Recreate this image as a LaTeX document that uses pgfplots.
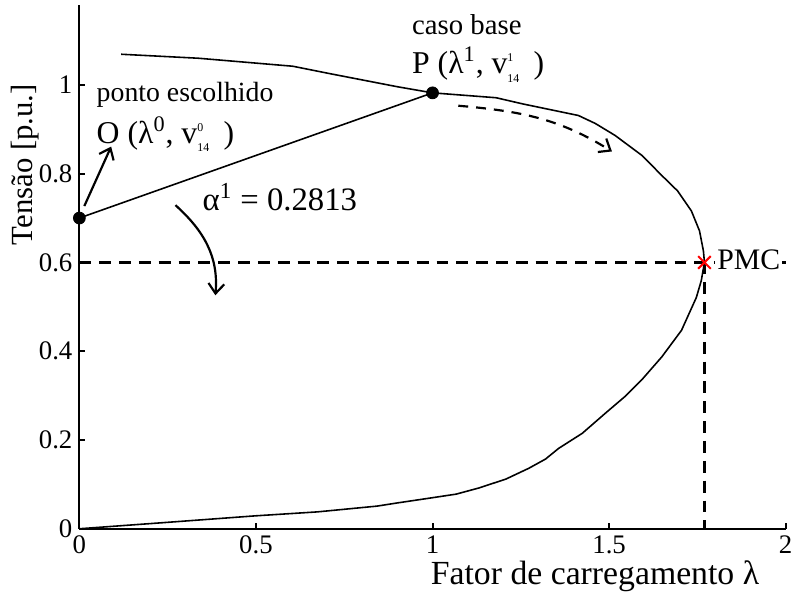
\documentclass[border=0pt]{standalone}
\usepackage{fontspec}
\setmainfont{Liberation Serif}
\usepackage{pgfplots}
\pgfplotsset{compat=1.18}
\usetikzlibrary{arrows.meta}

\newcommand{\sub}[2]{$^{\mbox{\fontsize{6}{6}\selectfont #1}}_{\mbox{\fontsize{6}{6}\selectfont #2}}$}

\begin{document}
\begin{tikzpicture}
\begin{axis}[
  scale only axis,
  width=356pt, height=264pt,
  xmin=0, xmax=2, ymin=0, ymax=1.18,
  axis lines*=left,
  axis line style={line width=1pt},
  xtick={0,0.5,1,1.5,2},
  ytick={0,0.2,0.4,0.6,0.8,1},
  tick align=inside,
  major tick length=3pt,
  tick style={line width=1pt, black},
  /pgf/number format/assume math mode=true,
  tick label style={font=\fontsize{13.5}{15}\selectfont},
  xlabel={Fator de carregamento λ},
  ylabel={Tensão [p.u.]},
  xlabel style={font=\fontsize{17}{19}\selectfont, at={(axis description cs:0.73,-0.09)}, anchor=center},
  ylabel style={font=\fontsize{15.5}{18}\selectfont, at={(axis description cs:-0.077,0.695)}, anchor=center},
  clip=false,
]
% curva PV
\addplot[black, line width=0.8pt] coordinates {
  (0.118,1.069) (0.337,1.060) (0.604,1.042) (0.711,1.025) (0.899,0.996)
  (1.0,0.982) (1.180,0.971) (1.256,0.957) (1.413,0.931) (1.461,0.913)
  (1.517,0.886) (1.593,0.841) (1.649,0.796) (1.694,0.761) (1.733,0.716)
  (1.756,0.671) (1.767,0.626) (1.770,0.600) (1.761,0.559) (1.747,0.521)
  (1.722,0.477) (1.705,0.447) (1.649,0.387) (1.593,0.336) (1.545,0.298)
  (1.489,0.260) (1.424,0.215) (1.357,0.181) (1.320,0.157) (1.272,0.136)
  (1.208,0.112) (1.132,0.092) (1.067,0.078) (0.992,0.069) (0.899,0.058)
  (0.843,0.051) (0.674,0.038) (0.497,0.029) (0.225,0.013) (0,0)
};
% reta O-P
\addplot[black, line width=0.8pt] coordinates {(0,0.70) (1,0.982)};
% linhas tracejadas
\addplot[black, line width=1.2pt, dash pattern=on 6pt off 4pt] coordinates {(0,0.6) (2.015,0.6)};
\addplot[black, line width=1.2pt, dash pattern=on 6pt off 4pt] coordinates {(1.77,0.6) (1.77,0)};
% pontos
\addplot[only marks, mark=*, mark size=3pt, black] coordinates {(0,0.70) (1,0.982)};
\node[anchor=base west, fill=white, inner sep=1pt, font=\fontsize{15}{17}\selectfont] at (axis cs:1.80,0.584) {PMC};
\addplot[only marks, mark=x, mark size=4.5pt, red, line width=1pt] coordinates {(1.77,0.6)};

% textos
\node[anchor=base west, inner sep=0pt, font=\fontsize{14}{16}\selectfont] at (axis cs:0.048,0.962) {ponto escolhido};
\node[anchor=base west, inner sep=0pt, font=\fontsize{16}{18}\selectfont] at (axis cs:0.048,0.868) {O (λ\textsuperscript{0}, v\sub{0}{14}\ \,)};
\node[anchor=base west, inner sep=0pt, font=\fontsize{16.5}{18}\selectfont] at (axis cs:0.348,0.716) {α\textsuperscript{1} = 0.2813};
\node[anchor=base west, inner sep=0pt, font=\fontsize{14.5}{16}\selectfont] at (axis cs:0.941,1.114) {caso base};
\node[anchor=base west, inner sep=0pt, font=\fontsize{16}{18}\selectfont] at (axis cs:0.941,1.025) {P (λ\textsuperscript{1}, v\sub{1}{14}\ \,)};

% setas
\draw[line width=1.1pt, -{Straight Barb[length=5pt,width=8pt]}] (axis cs:0.014,0.727) -- (axis cs:0.090,0.861);
\draw[line width=1.1pt, -{Straight Barb[length=5pt,width=8pt]}] (axis cs:0.272,0.729) to[out=-42,in=85] (axis cs:0.385,0.526);
\draw[line width=1.1pt, dash pattern=on 5pt off 4pt, -{Straight Barb[length=5pt,width=8pt]}] (axis cs:1.073,0.953) to[out=-5,in=148] (axis cs:1.508,0.850);

% margem
\path (axis description cs:-0.1124,-0.1439) rectangle (axis description cs:1.0098,1.0095);
\end{axis}
\end{tikzpicture}
\end{document}
